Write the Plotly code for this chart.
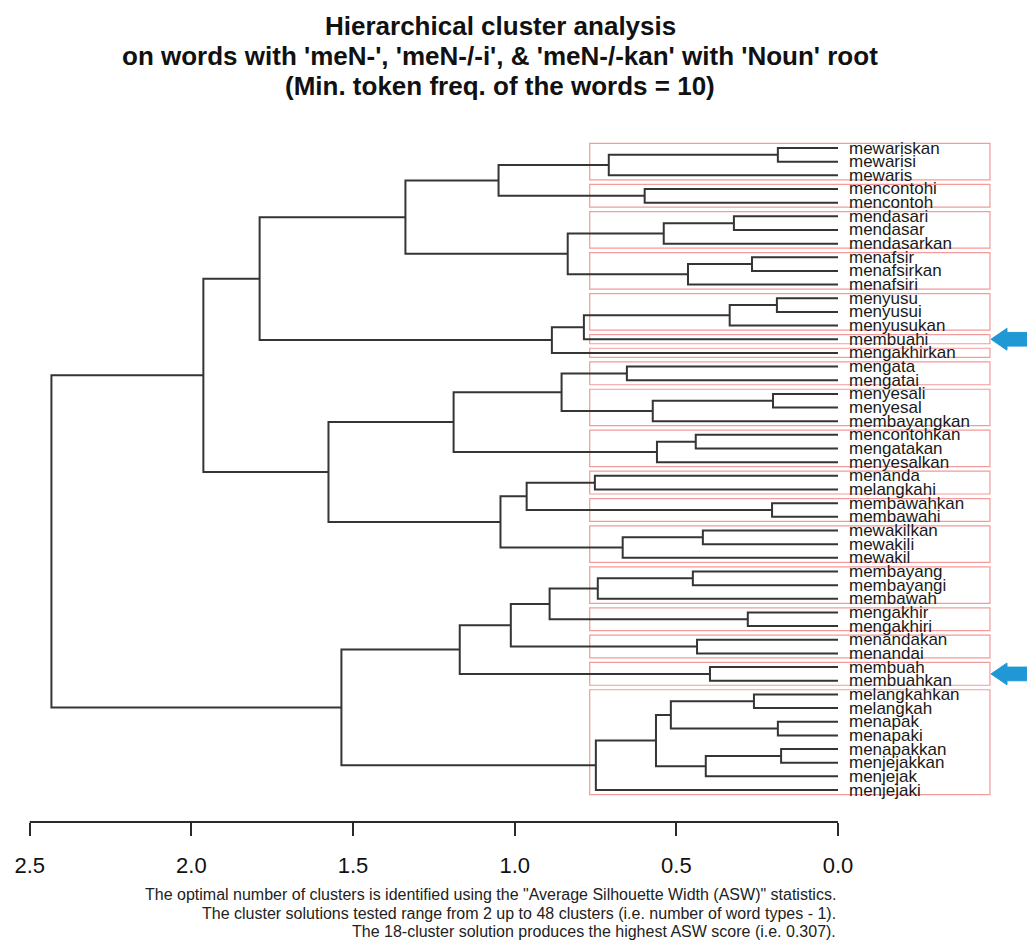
import plotly.graph_objects as go

# ---------------- data ----------------
leaf_labels = [
    "mewariskan", "mewarisi", "mewaris", "mencontohi", "mencontoh",
    "mendasari", "mendasar", "mendasarkan", "menafsir", "menafsirkan",
    "menafsiri", "menyusu", "menyusui", "menyusukan", "membuahi",
    "mengakhirkan", "mengata", "mengatai", "menyesali", "menyesal",
    "membayangkan", "mencontohkan", "mengatakan", "menyesalkan", "menanda",
    "melangkahi", "membawahkan", "membawahi", "mewakilkan", "mewakili",
    "mewakil", "membayang", "membayangi", "membawah", "mengakhir",
    "mengakhiri", "menandakan", "menandai", "membuah", "membuahkan",
    "melangkahkan", "melangkah", "menapak", "menapaki", "menapakkan",
    "menjejakkan", "menjejak", "menjejaki",
]

# merges (R hclust style): negative = leaf (display order, 1-based), positive = earlier merge
merge_left = [-1, 1, -4, 2, -6, 5, -9, 7, 6, 4,
              -12, 11, 12, 13, 10, -17, -19, 17, 16, -22,
              20, 19, -25, -27, 23, -29, 26, 25, 22, 15,
              -32, 31, -35, 32, -37, 34, -39, 36, -41, -43,
              39, -45, 42, 41, 44, 38, 30]
merge_right = [-2, -3, -5, 3, -7, -8, -10, -11, 8, 9,
               -13, -14, -15, -16, 14, -18, -20, -21, 18, -23,
               -24, 21, -26, -28, 24, -30, -31, 27, 28, 29,
               -33, -34, -36, 33, -38, 35, -40, 37, -42, -44,
               40, -46, -47, 43, -48, 45, 46]
merge_height = [0.186, 0.709, 0.598, 1.050, 0.322, 0.539, 0.266, 0.464, 0.836, 1.338,
                0.189, 0.335, 0.786, 0.885, 1.789, 0.653, 0.201, 0.573, 0.855, 0.440,
                0.560, 1.189, 0.752, 0.204, 0.963, 0.418, 0.666, 1.044, 1.576, 1.963,
                0.449, 0.743, 0.279, 0.892, 0.436, 1.012, 0.396, 1.170, 0.260, 0.186,
                0.517, 0.176, 0.409, 0.563, 0.749, 1.536, 2.433]

# 18-cluster solution: (first leaf, last leaf)
cluster_first = [1, 4, 6, 9, 12, 15, 16, 17, 19, 22, 25, 27, 29, 32, 35, 37, 39, 41]
cluster_last = [3, 5, 8, 11, 14, 15, 16, 18, 21, 24, 26, 28, 31, 34, 36, 38, 40, 48]
cut_height = 0.768

# leaves highlighted with arrows
arrow_leaf_pos = [15, 39.5]

tick_vals = [2.5, 2.0, 1.5, 1.0, 0.5, 0.0]
tick_text = ["2.5", "2.0", "1.5", "1.0", "0.5", "0.0"]

title_lines = [
    "Hierarchical cluster analysis",
    "on words with 'meN-', 'meN-/-i', & 'meN-/-kan' with 'Noun' root",
    "(Min. token freq. of the words = 10)",
]
note_lines = [
    "The optimal number of clusters is identified using the \"Average Silhouette Width (ASW)\" statistics.",
    "The cluster solutions tested range from 2 up to 48 clusters (i.e. number of word types - 1).",
    "The 18-cluster solution produces the highest ASW score (i.e. 0.307).",
]

# ---------------- layout constants ----------------
W, H = 1035, 943
M_TOP, M_BOT = 122, 129
PLOT_H = H - M_TOP - M_BOT
X_RANGE = [2.5673, -0.6341]
Y_RANGE = [50.34, -0.318]
RECT_RIGHT = -0.470
LINE_COL = "#353535"
RECT_COL = "#f39a9a"
ARROW_COL = "#1f98d5"
TITLE_CENTERS_PX = [18, 48, 78]      # from figure top
NOTE_CENTERS_PX = [886, 905, 923]


def paper_y(px_from_top):
    return (H - M_BOT - px_from_top) / PLOT_H


# ---------------- dendrogram geometry ----------------
n_merge = len(merge_height)
node_pos = [0.0] * n_merge


def child_info(c):
    if c < 0:
        return float(-c), 0.0
    return node_pos[c - 1], merge_height[c - 1]


xs, ys = [], []
for k in range(n_merge):
    yl, hl = child_info(merge_left[k])
    yr, hr = child_info(merge_right[k])
    node_pos[k] = (yl + yr) / 2.0
    h = merge_height[k]
    xs += [hl, h, h, hr, None]
    ys += [yl, yl, yr, yr, None]

fig = go.Figure()

fig.add_trace(go.Scatter(
    x=xs, y=ys, mode="lines",
    line=dict(color=LINE_COL, width=2),
    hoverinfo="skip", showlegend=False,
))

# cluster rectangles
shapes = []
for a, b in zip(cluster_first, cluster_last):
    shapes.append(dict(
        type="rect", xref="x", yref="y",
        x0=cut_height, x1=RECT_RIGHT, y0=a - 0.34, y1=b + 0.33,
        line=dict(color=RECT_COL, width=1.2), fillcolor="rgba(0,0,0,0)",
        layer="below",
    ))

# axis baseline from first to last tick
shapes.append(dict(
    type="line", xref="x", yref="paper",
    x0=max(tick_vals), x1=min(tick_vals), y0=0, y1=0,
    line=dict(color="#2a2a2a", width=2),
))

# blue arrows
for yc in arrow_leaf_pos:
    tip, base, tail = -0.4733, -0.5227, -0.5970
    hh, sh = 0.80, 0.50
    path = (f"M {tip} {yc} L {base} {yc - hh} L {base} {yc - sh} L {tail} {yc - sh} "
            f"L {tail} {yc + sh} L {base} {yc + sh} L {base} {yc + hh} Z")
    shapes.append(dict(type="path", xref="x", yref="y", path=path,
                       fillcolor=ARROW_COL, line=dict(color=ARROW_COL, width=1)))

annotations = []
for i, lab in enumerate(leaf_labels):
    annotations.append(dict(
        x=0, y=i + 1, xref="x", yref="y", text=lab, showarrow=False,
        xanchor="left", yanchor="middle", xshift=9,
        font=dict(family="Liberation Sans, Arial, sans-serif", size=17, color="#1a1a1a"),
    ))

for line, cy in zip(title_lines, TITLE_CENTERS_PX):
    annotations.append(dict(
        x=0.4755, y=paper_y(cy), xref="paper", yref="paper",
        text="<b>" + line + "</b>", showarrow=False,
        xanchor="center", yanchor="middle",
        font=dict(family="Liberation Sans, Arial, sans-serif", size=26, color="#111111"),
    ))

for line, cy in zip(note_lines, NOTE_CENTERS_PX):
    annotations.append(dict(
        x=0, y=paper_y(cy), xref="x", yref="paper",
        text=line, showarrow=False,
        xanchor="right", yanchor="middle",
        font=dict(family="Liberation Sans, Arial, sans-serif", size=16, color="#222222"),
    ))

fig.update_layout(
    width=W, height=H,
    margin=dict(l=0, r=0, t=M_TOP, b=M_BOT, pad=0),
    paper_bgcolor="white", plot_bgcolor="white",
    shapes=shapes, annotations=annotations,
    xaxis=dict(
        range=X_RANGE, showgrid=False, zeroline=False, showline=False,
        tickmode="array", tickvals=tick_vals, ticktext=tick_text,
        ticks="outside", ticklen=13, tickwidth=1.6, tickcolor="#2a2a2a",
        ticklabelstandoff=11,
        tickfont=dict(family="Liberation Sans, Arial, sans-serif", size=22, color="#111111"),
    ),
    yaxis=dict(
        range=Y_RANGE, showgrid=False, zeroline=False, showline=False,
        showticklabels=False, ticks="",
    ),
)

fig.write_html("out.html")
